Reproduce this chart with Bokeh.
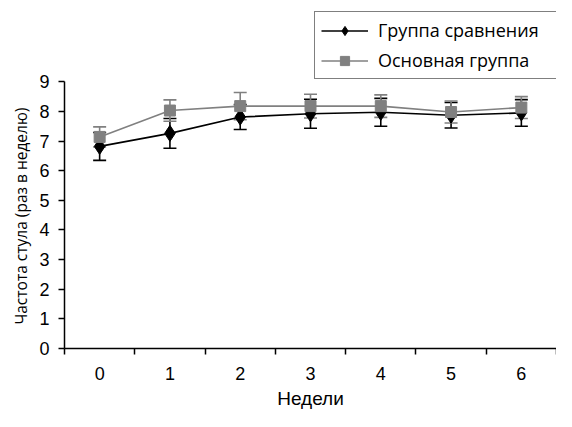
from bokeh.plotting import figure
from bokeh.models import (ColumnDataSource, Whisker, FixedTicker, Legend, LegendItem, Range1d, Title)
from bokeh.embed import file_html
from bokeh.resources import INLINE

weeks = [0, 1, 2, 3, 4, 5, 6]
week_labels = ["0", "1", "2", "3", "4", "5", "6"]

comp_name = "Группа сравнения"
comp_mean = [6.82, 7.26, 7.81, 7.92, 7.97, 7.87, 7.95]
comp_err = [0.47, 0.50, 0.42, 0.49, 0.47, 0.43, 0.45]

main_name = "Основная группа"
main_mean = [7.14, 8.03, 8.18, 8.18, 8.18, 7.98, 8.13]
main_err = [0.34, 0.36, 0.46, 0.40, 0.38, 0.37, 0.37]

x_title = "Недели"
y_title = "Частота стула (раз в неделю)"

BLACK = "#000000"
GRAY = "#808080"

H = 411
TOP_AXIS = 82      # pixel row of value 9
BOTTOM = 60        # bottom border
frame_h = H - BOTTOM
ppu = (frame_h - TOP_AXIS) / 9.0
y_top = 9 + TOP_AXIS / ppu

p = figure(width=556, height=H, output_backend="svg", toolbar_location=None,
           x_range=Range1d(-0.5, 6.5), y_range=Range1d(0, y_top),
           min_border_left=64, min_border_right=0, min_border_top=0, min_border_bottom=BOTTOM)
p.outline_line_color = None
p.xgrid.visible = False
p.ygrid.visible = False
p.background_fill_color = "white"
p.border_fill_color = "white"

src_c = ColumnDataSource(dict(x=weeks, y=comp_mean,
                              lo=[m - e for m, e in zip(comp_mean, comp_err)],
                              hi=[m + e for m, e in zip(comp_mean, comp_err)]))
src_m = ColumnDataSource(dict(x=weeks, y=main_mean,
                              lo=[m - e for m, e in zip(main_mean, main_err)],
                              hi=[m + e for m, e in zip(main_mean, main_err)]))

wc = Whisker(source=src_c, base="x", upper="hi", lower="lo", line_color=BLACK, line_width=1.6)
for h in (wc.upper_head, wc.lower_head):
    h.size = 13
    h.line_color = BLACK
    h.line_width = 1.6
p.add_layout(wc)

lc = p.line("x", "y", source=src_c, line_color=BLACK, line_width=1.6)
sc = p.scatter("x", "y", source=src_c, marker="diamond", size=16, fill_color=BLACK, line_color=BLACK)

wm = Whisker(source=src_m, base="x", upper="hi", lower="lo", line_color=GRAY, line_width=1.6)
for h in (wm.upper_head, wm.lower_head):
    h.size = 13
    h.line_color = GRAY
    h.line_width = 1.6
p.add_layout(wm)

lm = p.line("x", "y", source=src_m, line_color=GRAY, line_width=1.6)
sm = p.scatter("x", "y", source=src_m, marker="square", size=11, fill_color=GRAY, line_color=GRAY)

# axes
p.xaxis.ticker = FixedTicker(ticks=weeks, minor_ticks=[w - 0.5 for w in weeks] + [6.5])
p.xaxis.major_label_overrides = {w: l for w, l in zip(weeks, week_labels)}
p.xaxis.major_tick_line_color = None
p.xaxis.major_tick_out = 0
p.xaxis.major_tick_in = 0
p.xaxis.minor_tick_out = 6
p.xaxis.minor_tick_in = 0
p.xaxis.minor_tick_line_color = BLACK
p.xaxis.minor_tick_line_width = 1.5
p.xaxis.axis_line_color = BLACK
p.xaxis.axis_line_width = 1.5
p.xaxis.major_label_standoff = 12
p.xaxis.axis_label = x_title
p.xaxis.axis_label_standoff = 5
p.xaxis.axis_label_text_font = "Liberation Sans"
p.xaxis.axis_label_text_font_size = "19px"
p.xaxis.axis_label_text_font_style = "normal"
p.xaxis.axis_label_text_color = BLACK

p.yaxis.ticker = FixedTicker(ticks=list(range(10)), minor_ticks=[])
p.yaxis.bounds = (0, 9)
p.yaxis.major_tick_out = 6
p.yaxis.major_tick_in = 0
p.yaxis.major_tick_line_color = BLACK
p.yaxis.major_tick_line_width = 1.5
p.yaxis.axis_line_color = BLACK
p.yaxis.axis_line_width = 1.5
p.yaxis.major_label_standoff = 9

for ax in (p.xaxis, p.yaxis):
    ax.major_label_text_font = "Liberation Sans"
    ax.major_label_text_font_size = "18px"
    ax.major_label_text_color = BLACK

# y-axis title placed along the 0..9 span
yt = Title(text=y_title, align="left", text_font="Open Sans", text_font_size="15.5px",
           text_font_style="normal", text_color=BLACK, standoff=10, offset=24)
p.add_layout(yt, "left")

legend = Legend(items=[LegendItem(label=comp_name, renderers=[lc, sc]),
                       LegendItem(label=main_name, renderers=[lm, sm])],
                location=(250, frame_h - 82))
legend.border_line_color = BLACK
legend.border_line_width = 1.5
legend.label_text_font = "Open Sans"
legend.label_text_font_size = "18px"
legend.label_text_color = BLACK
legend.glyph_width = 47
legend.glyph_height = 23
legend.spacing = 6
legend.padding = 6
legend.margin = 0
legend.label_standoff = 10
legend.label_width = 190
legend.background_fill_alpha = 1.0
p.add_layout(legend, "center")

open("out.html", "w").write(file_html(p, INLINE))
